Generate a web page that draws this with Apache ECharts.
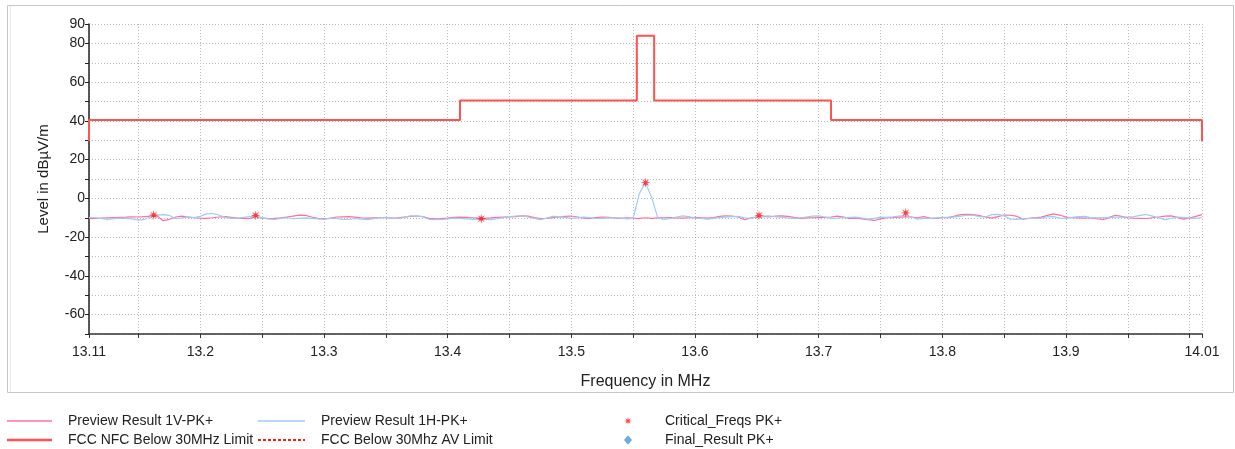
<!DOCTYPE html>
<html>
<head>
<meta charset="utf-8">
<script src="https://cdn.jsdelivr.net/npm/echarts@6/dist/echarts.min.js"></script>
<style>
  html, body { margin: 0; padding: 0; background: #fff; }
  #chart { width: 1235px; height: 449px; }
</style>
</head>
<body>
<div id="chart"></div>
<script>
// sweep grid of the preview traces (MHz)
const freqStart = 13.11;
const freqStep = 0.005;

// Preview Result 1V-PK+ (dBµV/m), one value per sweep point
const previewV = [
  -10.5, -10.3, -10.2, -10.0, -9.9, -9.8, -9.7, -9.5, -9.6, -9.4,
  -9.2, -9.0, -11.5, -10.8, -9.6, -9.2, -9.6, -10.0, -10.2, -10.3,
  -10.0, -9.6, -9.4, -9.8, -10.2, -10.3, -10.4, -9.2, -10.2, -10.5,
  -10.3, -10.0, -9.6, -9.2, -8.6, -8.8, -9.6, -10.3, -10.5, -10.3,
  -9.6, -9.5, -9.4, -9.7, -10.0, -10.2, -10.1, -10.0, -9.9, -10.2,
  -10.1, -9.6, -9.3, -9.1, -9.4, -10.3, -10.6, -10.5, -10.2, -9.8,
  -9.7, -9.8, -10.0, -10.2, -10.3, -10.1, -9.8, -9.7, -9.6, -9.4,
  -9.0, -9.2, -9.9, -10.4, -10.3, -9.9, -9.6, -9.3, -9.1, -9.6,
  -10.2, -10.3, -9.9, -9.6, -9.8, -10.1, -10.3, -10.0, -10.2, -10.3,
  -10.0, -10.3, -10.1, -10.0, -9.9, -10.1, -10.2, -10.0, -9.8, -10.0,
  -10.2, -9.9, -9.3, -9.0, -9.1, -9.6, -11.0, -10.2, -9.5, -9.3,
  -9.6, -9.2, -9.0, -9.3, -9.8, -10.3, -10.1, -10.0, -9.9, -9.8,
  -9.6, -9.2, -9.7, -10.3, -10.2, -10.6, -11.0, -11.4, -10.6, -10.0,
  -9.9, -9.7, -9.5, -9.6, -10.0, -9.4, -10.2, -10.3, -10.0, -9.9,
  -9.2, -8.4, -8.3, -8.4, -8.9, -9.6, -10.2, -9.4, -8.6, -8.7,
  -9.2, -10.7, -10.3, -10.0, -9.7, -8.8, -8.0, -8.6, -9.7, -10.0,
  -10.1, -10.2, -10.0, -10.5, -11.0, -9.8, -8.7, -9.3, -10.0, -10.2,
  -10.3, -10.4, -10.0, -9.6, -9.2, -9.0, -9.8, -10.7, -10.2, -9.3, -8.4
];

// Preview Result 1H-PK+ (dBµV/m)
const previewH = [
  -9.8, -10.0, -10.3, -10.8, -10.5, -10.2, -10.3, -10.6, -11.2, -10.8,
  -9.5, -8.6, -8.4, -8.8, -10.4, -10.1, -9.5, -9.9, -9.3, -8.0,
  -7.8, -8.6, -9.8, -10.3, -10.2, -9.8, -9.4, -9.2, -10.0, -10.6,
  -10.9, -10.3, -10.0, -10.5, -10.3, -10.1, -10.3, -10.6, -10.8, -10.2,
  -10.4, -10.8, -10.9, -10.4, -10.7, -11.0, -10.5, -10.0, -9.8, -10.2,
  -10.4, -9.8, -9.0, -9.1, -9.4, -10.8, -11.0, -10.9, -10.6, -10.2,
  -10.3, -10.6, -10.8, -10.7, -10.9, -11.0, -10.5, -9.9, -9.4, -9.1,
  -9.0, -9.6, -10.4, -11.0, -10.2, -9.3, -9.4, -9.8, -10.3, -10.1,
  -9.7, -9.9, -10.3, -10.4, -10.1, -10.0, -10.2, -10.6, -10.3, 2.5,
  8.0, 0.5, -10.2, -10.8, -10.4, -9.6, -9.0, -9.4, -10.2, -10.4,
  -10.7, -10.3, -9.8, -9.7, -9.4, -9.3, -10.0, -10.3, -9.6, -9.2,
  -9.0, -9.5, -9.7, -10.1, -10.3, -10.0, -9.6, -9.2, -9.0, -9.6,
  -10.3, -10.2, -10.0, -9.8, -9.7, -10.2, -10.7, -10.3, -9.7, -9.8,
  -9.5, -9.1, -9.0, -9.5, -10.7, -10.3, -10.3, -10.1, -9.8, -9.7,
  -9.5, -9.2, -8.7, -8.7, -9.4, -9.6, -8.4, -8.3, -9.0, -10.7,
  -10.8, -10.6, -10.4, -10.2, -10.3, -9.5, -9.4, -10.2, -10.3, -9.8,
  -9.4, -9.3, -9.9, -10.0, -9.9, -9.8, -9.7, -9.7, -9.6, -9.4,
  -8.8, -8.3, -9.2, -10.1, -11.0, -10.4, -9.7, -9.8, -10.2, -10.3, -10.0
];

// FCC limit: band edges (MHz) and level inside each band, level outside
const limitEdges = [13.11, 13.41, 13.553, 13.567, 13.71, 14.01];
const limitLevels = [40.5, 50.5, 84, 50.5, 40.5];
const limitOutside = 29.5;

// critical frequencies PK+
const critFreqs = [13.1623, 13.2448, 13.4272, 13.5601, 13.6518, 13.7704];
const critLevels = [-8.6, -8.8, -10.5, 8.1, -8.8, -7.5];

// final results PK+ (none in this sweep)
const finalFreqs = [];
const finalLevels = [];

// axis ticks / labels
const xTickValues = [13.11, 13.15, 13.2, 13.25, 13.3, 13.35, 13.4, 13.45, 13.5, 13.55,
  13.6, 13.65, 13.7, 13.75, 13.8, 13.85, 13.9, 13.95, 14.0, 14.01];
const xLabelValues = [13.11, 13.2, 13.3, 13.4, 13.5, 13.6, 13.7, 13.8, 13.9, 14.01];
const yLabelValues = [-60, -40, -20, 0, 20, 40, 60, 80, 90];

const fontFam = '"Liberation Sans", Arial, sans-serif';

function trace(vals) {
  return vals.map((v, i) => [+(freqStart + i * freqStep).toFixed(3), v]);
}

function limitLine() {
  let pts = [[limitEdges[0], limitOutside]];
  for (let i = 0; i < limitLevels.length; i++) {
    pts.push([limitEdges[i], limitLevels[i]]);
    pts.push([limitEdges[i + 1], limitLevels[i]]);
  }
  pts.push([limitEdges[limitEdges.length - 1], limitOutside]);
  return pts;
}

// little 8 point asterisk star
function starPath() {
  let pts = [];
  for (let k = 0; k < 16; k++) {
    let a = k * Math.PI / 8 - Math.PI / 2;
    let r = k % 2 ? 3.5 : 10;
    pts.push((10 + r * Math.cos(a)).toFixed(2) + ' ' + (10 + r * Math.sin(a)).toFixed(2));
  }
  return 'path://M' + pts.join(' L') + ' Z';
}
const star = starPath();
const diamond = 'path://M5 0 L10 6 L5 12 L0 6 Z';

// legend line samples (solid / dashed) as path icons
function solidIcon(w, h) {
  return 'path://M0 0 H' + w + ' V' + h + ' H0 Z';
}
function dashedIcon(w, h) {
  let d = '';
  for (let x = 0; x < w; x += 5) {
    let e = Math.min(x + 3, w);
    d += 'M' + x + ' 0 H' + e + ' V' + h + ' H' + x + ' Z ';
  }
  return 'path://' + d;
}

let myChart = echarts.init(document.getElementById('chart'));
let legendText = { fontSize: 14, lineHeight: 12, color: '#222', fontFamily: fontFam, padding: [0, 0, 0, 11] };

let option = {
  animation: false,
  backgroundColor: '#fff',
  textStyle: { fontFamily: fontFam },
  graphic: [
    {
      type: 'rect', silent: true, z: -10,
      shape: { x: 7.5, y: 5.5, width: 1226, height: 387 },
      style: { fill: 'none', stroke: '#c6c6c6', lineWidth: 1 }
    },
    {
      type: 'line', silent: true, z: -10,
      shape: { x1: 10.5, y1: 6, x2: 10.5, y2: 392 },
      style: { stroke: '#e8e8e8', lineWidth: 1 }
    }
  ],
  grid: { left: 89, top: 24, width: 1113, height: 310 },
  legend: [
    {
      left: 7, top: 414, height: 34, orient: 'vertical', padding: 0, itemWidth: 45, itemHeight: 12, itemGap: 5,
      selectedMode: false, textStyle: legendText,
      data: [
        { name: 'Preview Result 1V-PK+', icon: solidIcon(45, 1.5) },
        { name: 'FCC NFC Below 30MHz Limit', icon: solidIcon(45, 2.5) }
      ]
    },
    {
      left: 258, top: 414, height: 34, orient: 'vertical', padding: 0, itemWidth: 47, itemHeight: 12, itemGap: 5,
      selectedMode: false, textStyle: legendText,
      data: [
        { name: 'Preview Result 1H-PK+', icon: solidIcon(47, 1.5) },
        { name: 'FCC Below 30Mhz AV Limit', icon: dashedIcon(47, 2) }
      ]
    },
    {
      left: 624, top: 414, height: 34, orient: 'vertical', padding: 0, itemWidth: 8, itemHeight: 12, itemGap: 5,
      selectedMode: false,
      textStyle: Object.assign({}, legendText, { padding: [0, 0, 0, 28] }),
      data: [{ name: 'Critical_Freqs PK+', icon: star }, { name: 'Final_Result PK+', icon: diamond }]
    }
  ],
  xAxis: {
    type: 'value',
    min: 13.11,
    max: 14.01,
    name: 'Frequency in MHz',
    nameLocation: 'middle',
    nameGap: 40,
    nameTextStyle: { fontSize: 16, color: '#222', fontFamily: fontFam },
    axisLine: { onZero: false, lineStyle: { color: '#333', width: 1.5 } },
    axisTick: { customValues: xTickValues, length: 4, lineStyle: { color: '#333' } },
    axisLabel: {
      customValues: xLabelValues,
      margin: 11, fontSize: 14, color: '#222', fontFamily: fontFam,
      formatter: v => String(+(+v).toFixed(2))
    },
    splitLine: { show: true, lineStyle: { type: [1, 2], color: '#bcbcbc', width: 1 } }
  },
  yAxis: {
    type: 'value',
    min: -70,
    max: 90,
    interval: 10,
    name: 'Level in dBµV/m',
    nameLocation: 'middle',
    nameGap: 38,
    nameTextStyle: { fontSize: 15, color: '#222', fontFamily: fontFam },
    axisLine: { show: true, lineStyle: { color: '#222', width: 1.5 } },
    axisTick: { show: true, length: 4, lineStyle: { color: '#222' } },
    axisLabel: { customValues: yLabelValues, margin: 4, fontSize: 14, color: '#222', fontFamily: fontFam },
    splitLine: { show: true, lineStyle: { type: [1, 2], color: '#bcbcbc', width: 1 } }
  },
  series: [
    {
      name: 'Preview Result 1V-PK+', type: 'line', symbol: 'none',
      data: trace(previewV),
      lineStyle: { color: '#ff6f9a', width: 1.2 }, itemStyle: { color: '#ff6f9a' }, z: 3
    },
    {
      name: 'Preview Result 1H-PK+', type: 'line', symbol: 'none',
      data: trace(previewH),
      lineStyle: { color: '#9ccbfb', width: 1.2 }, itemStyle: { color: '#9ccbfb' }, z: 4
    },
    {
      name: 'FCC NFC Below 30MHz Limit', type: 'line', symbol: 'none', clip: false,
      data: limitLine(),
      lineStyle: { color: '#ff5252', width: 2 }, itemStyle: { color: '#ff5252' }, z: 5
    },
    {
      name: 'FCC Below 30Mhz AV Limit', type: 'line', symbol: 'none',
      data: [],
      lineStyle: { color: '#ff1a1a', width: 1.5, type: [4, 2] }, itemStyle: { color: '#ff1a1a' }
    },
    {
      name: 'Critical_Freqs PK+', type: 'scatter', symbol: star, symbolSize: 10,
      data: critFreqs.map((f, i) => [f, critLevels[i]]),
      itemStyle: { color: '#ff1414' }, z: 6
    },
    {
      name: 'Final_Result PK+', type: 'scatter', symbol: 'diamond', symbolSize: 9,
      data: finalFreqs.map((f, i) => [f, finalLevels[i]]),
      itemStyle: { color: '#4596dc' }, z: 6
    }
  ]
};

myChart.setOption(option);
</script>
</body>
</html>
